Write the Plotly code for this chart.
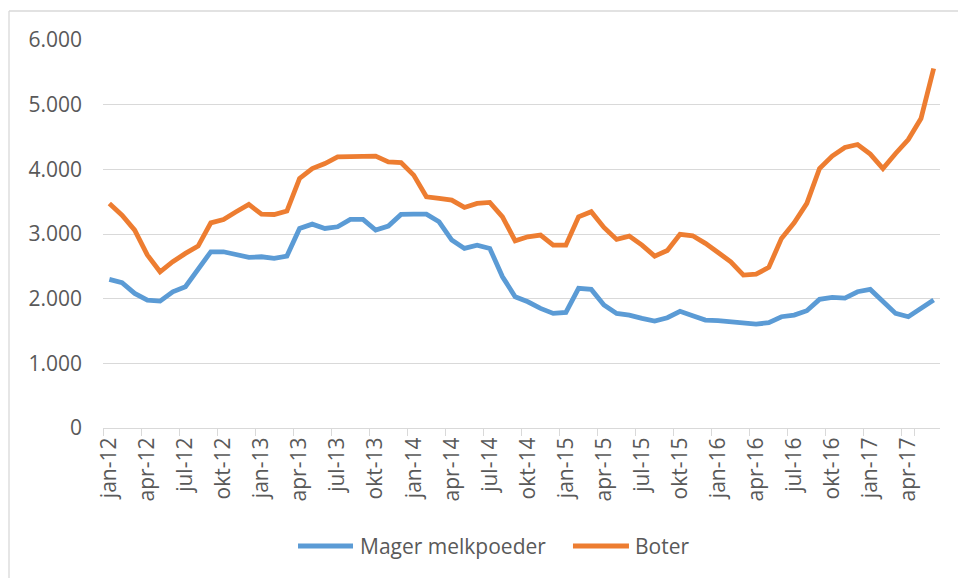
import plotly.graph_objects as go

month_names = ["jan", "feb", "mrt", "apr", "mei", "jun", "jul", "aug", "sep", "okt", "nov", "dec"]
years = ["12", "13", "14", "15", "16", "17"]
months = [f"{m}-{y}" for y in years for m in month_names][:66]

mager_melkpoeder = [
    2298, 2246, 2081, 1978, 1963, 2107, 2184, 2468, 2725, 2725, 2674, 2638,
    2648, 2622, 2658, 3086, 3153, 3086, 3112, 3225, 3225, 3060, 3122, 3302,
    3307, 3307, 3189, 2906, 2777, 2828, 2777, 2339, 2030, 1952, 1850, 1772,
    1788, 2159, 2143, 1901, 1772, 1746, 1695, 1654, 1705, 1805, 1736, 1669,
    1659, 1638, 1618, 1607, 1628, 1721, 1746, 1813, 1989, 2020, 2009, 2107,
    2143, 1952, 1772, 1721, 1850, 1978,
]
boter = [
    3473, 3292, 3060, 2674, 2416, 2571, 2700, 2813, 3173, 3225, 3344, 3457,
    3307, 3302, 3354, 3859, 4013, 4090, 4193, 4193, 4209, 4204, 4116, 4106,
    3910, 3575, 3550, 3524, 3411, 3473, 3488, 3266, 2895, 2957, 2983, 2828,
    2828, 3266, 3344, 3102, 2916, 2968, 2828, 2658, 2746, 2995, 2973, 2855,
    2715, 2571, 2365, 2380, 2484, 2932, 3173, 3473, 4013, 4204, 4338, 4384,
    4235, 4013, 4245, 4461, 4786, 5559,
]
tick_labels = months[::3]
series_names = ["Mager melkpoeder", "Boter"]
series_colors = ["#5b9bd5", "#ed7d31"]

FONT = "Open Sans"
TXT = "#595959"
GRID = "#d9d9d9"

fig = go.Figure()
for name, vals, col in zip(series_names, [mager_melkpoeder, boter], series_colors):
    fig.add_trace(go.Scatter(x=months, y=vals, name=name, mode="lines",
                             line=dict(color=col, width=4.8), showlegend=False))

# manual legend (line sample + label) placed below the plot
legend_lines = [(0.2330, 0.2987), (0.5615, 0.6284)]
legend_text_x = [0.3047, 0.6332]
legend_y = -0.3041
shapes = [
    dict(type="line", xref="paper", yref="paper", x0=-0.1123, x1=1.1, y0=1.0747, y1=1.0747,
         line=dict(color=GRID, width=1.3)),
    dict(type="line", xref="paper", yref="paper", x0=-0.1123, x1=-0.1123, y0=1.0747, y1=-0.6,
         line=dict(color=GRID, width=1.3)),
]
annotations = []
for (lx0, lx1), tx, name, col in zip(legend_lines, legend_text_x, series_names, series_colors):
    shapes.append(dict(type="line", xref="paper", yref="paper", x0=lx0, x1=lx1,
                       y0=legend_y, y1=legend_y, line=dict(color=col, width=4.8)))
    annotations.append(dict(xref="paper", yref="paper", x=tx, y=legend_y, text=name,
                            showarrow=False, xanchor="left", yanchor="middle",
                            font=dict(family=FONT, size=21, color=TXT)))

fig.update_layout(
    width=958, height=578,
    margin=dict(l=103, r=18, t=40, b=150),
    paper_bgcolor="white", plot_bgcolor="white",
    separators=",.",
    font=dict(family=FONT, size=21, color=TXT),
    showlegend=False,
    hovermode=False,
    shapes=shapes,
    annotations=annotations,
)
fig.update_xaxes(
    type="category", categoryorder="array", categoryarray=months,
    range=[-0.5, len(months) - 0.5],
    tickmode="array", tickvals=tick_labels, ticktext=tick_labels,
    tickangle=-90, tickson="boundaries", ticks="outside", ticklen=7,
    tickcolor=GRID, tickwidth=1.3,
    showline=True, linecolor=GRID, linewidth=1.3,
    showgrid=False, zeroline=False,
    tickfont=dict(family=FONT, size=21, color=TXT),
)
fig.update_yaxes(
    range=[0, 6000], tickmode="linear", tick0=0, dtick=1000, tickformat=",d",
    showgrid=True, gridcolor=GRID, gridwidth=1.3, zeroline=False, showline=False,
    ticks="", ticklabelstandoff=20,
    tickfont=dict(family=FONT, size=21, color=TXT),
)

fig.write_html(
    "out.html",
    config={"displayModeBar": False},
    post_script="document.body.style.margin='0';document.body.style.overflow='hidden';",
)
